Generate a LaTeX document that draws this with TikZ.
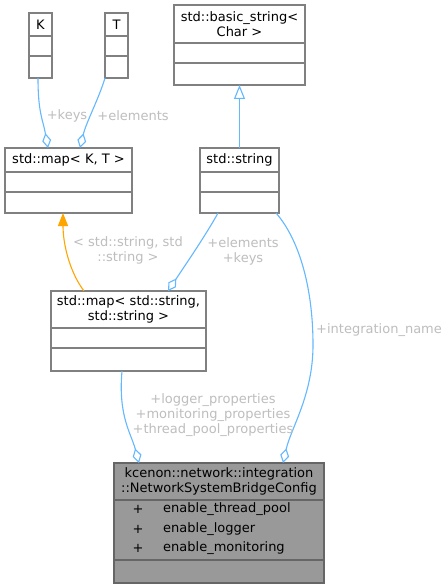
\documentclass[tikz,border=0pt]{standalone}
\usepackage{fontspec}
\setmainfont{DejaVu Sans}
\usetikzlibrary{arrows.meta}
\definecolor{edgeblue}{HTML}{63B8FF}
\definecolor{boxline}{HTML}{808080}
\definecolor{cfgline}{HTML}{666666}
\definecolor{lblgray}{HTML}{BEBEBE}
\definecolor{cfgfill}{HTML}{999999}
\definecolor{edgeorange}{HTML}{FFA500}
\newcommand{\umlclassbox}[9]{%
  \node[draw=#9, fill=#8, line width=1.4pt, inner sep=0pt, outer sep=0pt, anchor=north west,
        minimum width={(#4-#2)*1pt}, minimum height={(#5-#3)*1pt}] (#1) at (#2,#3) {};
  \draw[#9, line width=1.4pt] (#2,#6) -- (#4,#6) (#2,#7) -- (#4,#7);
}
\tikzset{
  assoc/.style={draw=edgeblue, line width=1.1pt, -{Diamond[open, length=15pt, width=9pt]}},
  inherit/.style={draw=edgeblue, line width=1.1pt, -{Triangle[open, length=14pt, width=11pt]}},
  tmpl/.style={draw=edgeorange, line width=1.1pt, -{Triangle[length=13pt, width=10pt, fill=edgeorange]}},
  elabel/.style={text=lblgray, align=center, inner sep=0pt},
  ctitle/.style={align=center, inner sep=0pt, text=black},
}
\begin{document}
\begin{tikzpicture}[x=1pt, y=-1pt, font=\fontsize{13}{15}\selectfont]
\useasboundingbox (0,0) rectangle (447,588);
\fill[white] (0,0) rectangle (447,588);

% classes
\umlclassbox{K}{29}{13}{52}{78}{36}{56}{white}{boxline}
\node[ctitle] (Kt) at (40.5,24.5) {K};
\umlclassbox{T}{105}{13}{128}{78}{36}{56}{white}{boxline}
\node[ctitle] (Tt) at (116.5,24.5) {T};
\umlclassbox{bstr}{174}{5}{305}{85}{43}{63}{white}{boxline}
\node[ctitle] (bstrt) at (239.5,24.5) {std::basic\_string<\\Char >};
\umlclassbox{mapKT}{5}{148}{132}{213}{172}{192}{white}{boxline}
\node[ctitle] (mapKTt) at (68.5,160) {std::map< K, T >};
\umlclassbox{str}{200}{148}{279}{213}{172}{192}{white}{boxline}
\node[ctitle] (strt) at (239.5,160) {std::string};
\umlclassbox{mapSS}{51}{291}{206}{371}{328}{348}{white}{boxline}
\node[ctitle] (mapSSt) at (128.5,309.5) {std::map< std::string,\\std::string >};
\umlclassbox{cfg}{114}{463}{324}{583}{500}{560}{cfgfill}{cfgline}
\node[ctitle] (cfgt) at (219,481.5) {kcenon::network::integration\\::NetworkSystemBridgeConfig};
\node[inner sep=0pt] (p1) at (138,509) {+};
\node[inner sep=0pt] (p2) at (138,529) {+};
\node[inner sep=0pt] (p3) at (138,548) {+};
\node[inner sep=0pt, anchor=west] (a1) at (163,509) {enable\_thread\_pool};
\node[inner sep=0pt, anchor=west] (a2) at (163,529) {enable\_logger};
\node[inner sep=0pt, anchor=west] (a3) at (163,548) {enable\_monitoring};

% connectors
\draw[assoc] ([xshift=-2.5pt]K.south) .. controls +(0,35) and +(-5,-28) .. ([xshift=-20.5pt]mapKT.north);
\draw[assoc] ([xshift=-11.5pt]T.south) .. controls +(-6,20) and +(6,-25) .. ([xshift=11.5pt]mapKT.north);
\draw[inherit] (str.north) -- (bstr.south);
\draw[tmpl] ([xshift=-44.5pt]mapSS.north) .. controls +(-15,-20) and +(0,30) .. ([xshift=-5.5pt]mapKT.south);
\draw[assoc] ([xshift=-21.5pt]str.south) .. controls +(-12,22) and +(12,-18) .. ([xshift=39.5pt]mapSS.north);
\coordinate (bulge) at (313,345);
\draw[assoc] ([xshift=36.5pt]str.south) .. controls +(22,25) and +(0,-60) .. (bulge)
  .. controls +(0,50) and +(8,-35) .. ([xshift=64pt]cfg.north);
\draw[assoc] ([xshift=-6.5pt]mapSS.south) .. controls +(-4,45) and +(-8,-30) .. ([xshift=-80pt]cfg.north);

% edge labels
\node[elabel] (lk) at (67,116) {+keys};
\node[elabel] (le) at (133,116) {+elements};
\node[elabel] (lt) at (128,250.5) {< std::string, std\\::string >};
\node[elabel] (lek) at (243,251) {+elements\\+keys};
\node[elabel, anchor=west] (li) at (316,330) {+integration\_name};
\node[elabel] (lp) at (213,415.5) {+logger\_properties\\+monitoring\_properties\\+thread\_pool\_properties};
\end{tikzpicture}
\end{document}
